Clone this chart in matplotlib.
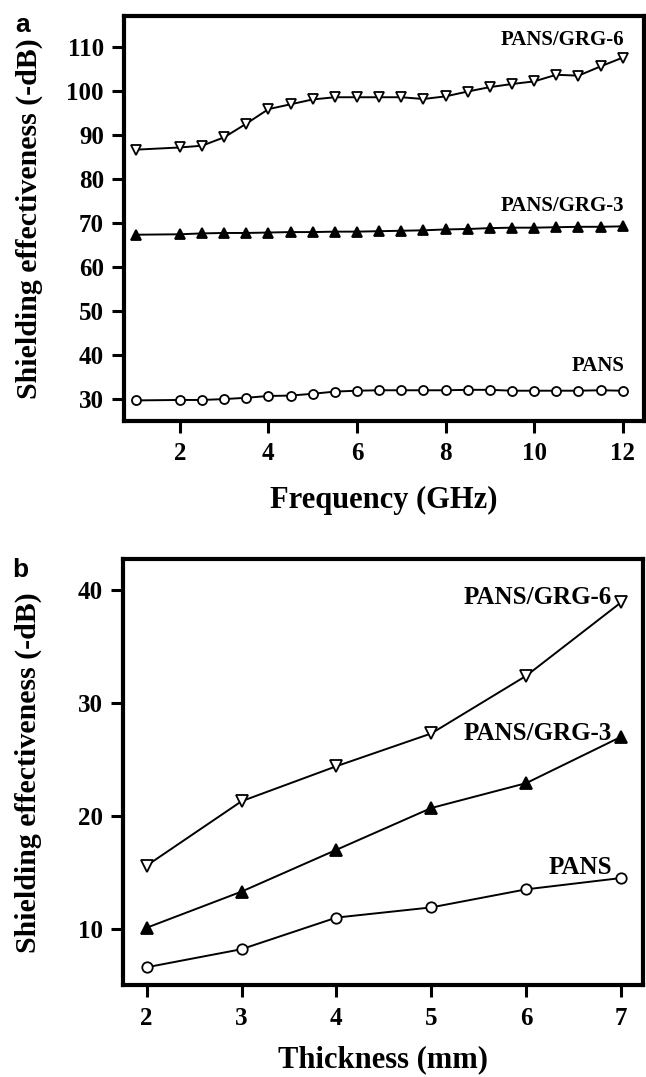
import matplotlib
matplotlib.use("Agg")
import matplotlib.pyplot as plt

# panel a: shielding effectiveness vs frequency
freq = [1, 2, 2.5, 3, 3.5, 4, 4.5, 5, 5.5, 6, 6.5, 7, 7.5, 8, 8.5, 9, 9.5, 10, 10.5, 11, 11.5, 12]
se_grg6_freq = [86.6, 87.1, 87.5, 89.4, 92.5, 95.8, 96.9, 98.0, 98.5, 98.5, 98.5, 98.5, 98.1, 98.7,
                99.8, 100.8, 101.5, 102.1, 103.6, 103.4, 105.5, 107.5]
se_grg3_freq = [67.3, 67.4, 67.6, 67.7, 67.7, 67.8, 67.9, 67.9, 68.0, 68.0, 68.1, 68.2, 68.3, 68.5,
                68.6, 68.8, 68.9, 68.9, 69.0, 69.1, 69.1, 69.2]
se_pans_freq = [29.7, 29.8, 29.8, 30.0, 30.3, 30.7, 30.8, 31.2, 31.7, 31.9, 32.0, 32.0, 32.0, 32.0,
                32.1, 32.1, 31.9, 31.9, 31.9, 31.9, 32.0, 31.9]

# panel b: shielding effectiveness vs thickness
thickness = [2, 3, 4, 5, 6, 7]
se_grg6_thick = [15.6, 21.3, 24.4, 27.3, 32.4, 38.9]
se_grg3_thick = [10.1, 13.3, 17.0, 20.7, 22.9, 27.0]
se_pans_thick = [6.6, 8.2, 11.0, 11.9, 13.5, 14.5]

series_names = ["PANS/GRG-6", "PANS/GRG-3", "PANS"]

serif = ["Liberation Serif", "DejaVu Serif"]
plt.rcParams["font.family"] = serif
plt.rcParams["font.weight"] = "bold"

fig = plt.figure(figsize=(6.46, 10.77), dpi=100)
ax1 = fig.add_axes([0.1920, 0.6094, 0.8049, 0.3760])
ax2 = fig.add_axes([0.1899, 0.0851, 0.8050, 0.3959])


def style(ax):
    for s in ax.spines.values():
        s.set_linewidth(3)
    ax.tick_params(direction="out", length=8.5, width=2.2, labelsize=18,
                   top=False, right=False)
    ax.tick_params(axis="x", pad=7)
    ax.tick_params(axis="y", pad=6)
    for lab in ax.get_xticklabels() + ax.get_yticklabels():
        lab.set_fontweight("bold")


line_kw = dict(color="black", lw=1.4, mew=1.3, mec="black")

# ---- a ----
ax1.plot(freq, se_grg6_freq, marker="v", mfc="white", ms=6.5, **line_kw)
ax1.plot(freq, se_grg3_freq, marker="^", mfc="black", ms=6.5, **line_kw)
ax1.plot(freq, se_pans_freq, marker="o", mfc="white", ms=6.5, **line_kw)
ax1.set_xlim(0.74, 12.48)
ax1.set_ylim(25.1, 117.0)
ax1.set_xticks([2, 4, 6, 8, 10, 12])
ax1.set_yticks(range(30, 111, 10))
style(ax1)
ax1.set_xlabel("Frequency (GHz)", fontsize=22, fontweight="bold")
ax1.set_ylabel("Shielding effectiveness (-dB)", fontsize=21.5, fontweight="bold")
ax1.yaxis.set_label_coords(-0.155, 0.5)
ax1.xaxis.set_label_coords(0.5, -0.16)
for name, y in zip(series_names, [110.4, 72.6, 36.3]):
    ax1.text(12.03, y, name, ha="right", va="baseline", fontsize=15, fontweight="bold")

# ---- b ----
ax2.plot(thickness, se_grg6_thick, marker="v", mfc="white", ms=8, **line_kw)
ax2.plot(thickness, se_grg3_thick, marker="^", mfc="black", ms=8, **line_kw)
ax2.plot(thickness, se_pans_thick, marker="o", mfc="white", ms=7.5, **line_kw)
ax2.set_xlim(1.747, 7.229)
ax2.set_ylim(5.0, 42.75)
ax2.set_xticks(thickness)
ax2.set_yticks([10, 20, 30, 40])
style(ax2)
ax2.set_xlabel("Thickness (mm)", fontsize=22, fontweight="bold")
ax2.set_ylabel("Shielding effectiveness (-dB)", fontsize=21.5, fontweight="bold")
ax2.yaxis.set_label_coords(-0.155, 0.5)
ax2.xaxis.set_label_coords(0.5, -0.14)
for name, y in zip(series_names, [38.76, 26.71, 14.87]):
    ax2.text(6.905, y, name, ha="right", va="baseline", fontsize=18, fontweight="bold")

fig.text(0.0232, 0.9703, "a", fontsize=19, fontweight="bold", family=["Liberation Sans", "DejaVu Sans"])
fig.text(0.0186, 0.4643, "b", fontsize=19, fontweight="bold", family=["Liberation Sans", "DejaVu Sans"])

fig.savefig("out.png", dpi=100)
